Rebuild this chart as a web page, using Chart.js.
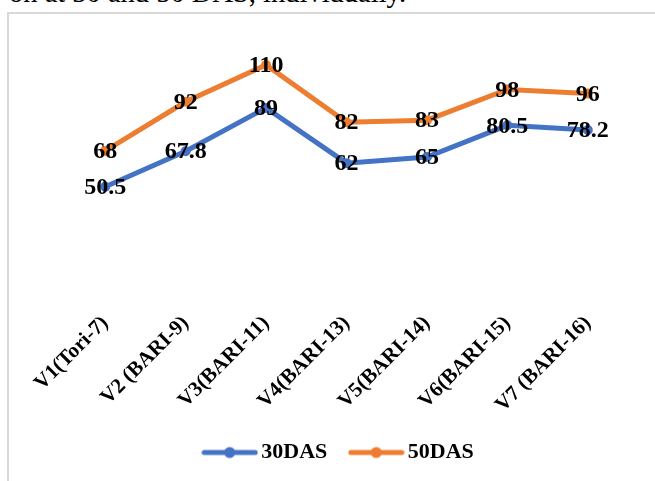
<!DOCTYPE html>
<html>
<head>
<meta charset="utf-8">
<script src="https://cdn.jsdelivr.net/npm/chart.js@4/dist/chart.umd.min.js"></script>
<style>
  html, body { margin: 0; padding: 0; width: 655px; height: 481px; overflow: hidden; background: #fff; }
  .caption { position: absolute; left: 9px; top: -21px; font: 28.5px/1 "Liberation Serif", "Times New Roman", serif; color: #000; white-space: nowrap; }
  .frame { position: absolute; left: 7px; top: 12px; width: 700px; height: 520px; border: 2px solid #d9d9d9; box-sizing: border-box; }
  #chart { position: absolute; left: 9px; top: 14px; }
</style>
</head>
<body>
<div class="caption">on at 30 and 50 DAS, individually.</div>
<div class="frame"></div>
<canvas id="chart" width="655" height="467"></canvas>
<script>
const categories = ['V1(Tori-7)', 'V2 (BARI-9)', 'V3(BARI-11)', 'V4(BARI-13)', 'V5(BARI-14)', 'V6(BARI-15)', 'V7 (BARI-16)'];
const das30 = [50.5, 67.8, 89, 62, 65, 80.5, 78.2];
const das50 = [68, 92, 110, 82, 83, 98, 96];
const seriesNames = ['30DAS', '50DAS'];

const BLUE = '#4472C4';
const ORANGE = '#ED7D31';
const SERIF = '"Liberation Serif", "Times New Roman", serif';

// Legend swatch: a short line with a round marker in the middle
function swatch(color) {
  const c = document.createElement('canvas');
  c.width = 57; c.height = 14;
  const g = c.getContext('2d');
  g.strokeStyle = color; g.lineWidth = 5; g.lineCap = 'round';
  g.beginPath(); g.moveTo(3, 7); g.lineTo(54, 7); g.stroke();
  g.fillStyle = color;
  g.beginPath(); g.arc(28.5, 7, 5.5, 0, Math.PI * 2); g.fill();
  return c;
}

// Writes each point's value centred on its marker
const valueLabels = {
  id: 'valueLabels',
  afterDatasetsDraw(chart) {
    const ctx = chart.ctx;
    ctx.save();
    ctx.font = 'bold 24px ' + SERIF;
    ctx.fillStyle = '#000';
    ctx.textAlign = 'center';
    ctx.textBaseline = 'middle';
    chart.data.datasets.forEach((ds, i) => {
      chart.getDatasetMeta(i).data.forEach((pt, j) => {
        ctx.fillText(String(ds.data[j]), pt.x, pt.y + 1);
      });
    });
    ctx.restore();
  }
};

// Nudges the legend row a little to the left of the plot centre
const legendShift = {
  id: 'legendShift',
  afterLayout(chart) {
    const lg = chart.legend;
    if (lg) { lg.left -= 5; lg.right -= 5; }
  }
};

new Chart(document.getElementById('chart'), {
  type: 'line',
  data: {
    labels: categories,
    datasets: [
      { label: seriesNames[0], data: das30, borderColor: BLUE, backgroundColor: BLUE, borderWidth: 5, pointRadius: 5, pointBorderWidth: 0, tension: 0 },
      { label: seriesNames[1], data: das50, borderColor: ORANGE, backgroundColor: ORANGE, borderWidth: 5, pointRadius: 5, pointBorderWidth: 0, tension: 0 }
    ]
  },
  options: {
    responsive: false,
    animation: false,
    layout: { padding: { left: 56, right: 36, top: 30.5, bottom: 7.5 } },
    scales: {
      x: {
        offset: true,
        border: { display: false },
        grid: { display: false, drawTicks: false },
        ticks: {
          minRotation: 45, maxRotation: 45, autoSkip: false,
          padding: 21, labelOffset: 0,
          color: '#000',
          font: { family: SERIF, size: 21, weight: 'bold' }
        },
        afterFit(scale) { scale.height = 123; }
      },
      y: { display: false, min: 0, max: 120 }
    },
    plugins: {
      tooltip: { enabled: false },
      legend: {
        position: 'bottom',
        labels: {
          usePointStyle: true,
          pointStyleWidth: 41,
          padding: 28.5,
          color: '#000',
          font: { family: SERIF, size: 22, weight: 'bold' },
          generateLabels(chart) {
            return chart.data.datasets.map((ds, i) => ({
              text: ds.label,
              pointStyle: swatch(ds.borderColor),
              fillStyle: ds.borderColor,
              strokeStyle: ds.borderColor,
              lineWidth: 0,
              fontColor: '#000',
              hidden: false,
              datasetIndex: i
            }));
          }
        }
      }
    }
  },
  plugins: [valueLabels, legendShift]
});
</script>
</body>
</html>
